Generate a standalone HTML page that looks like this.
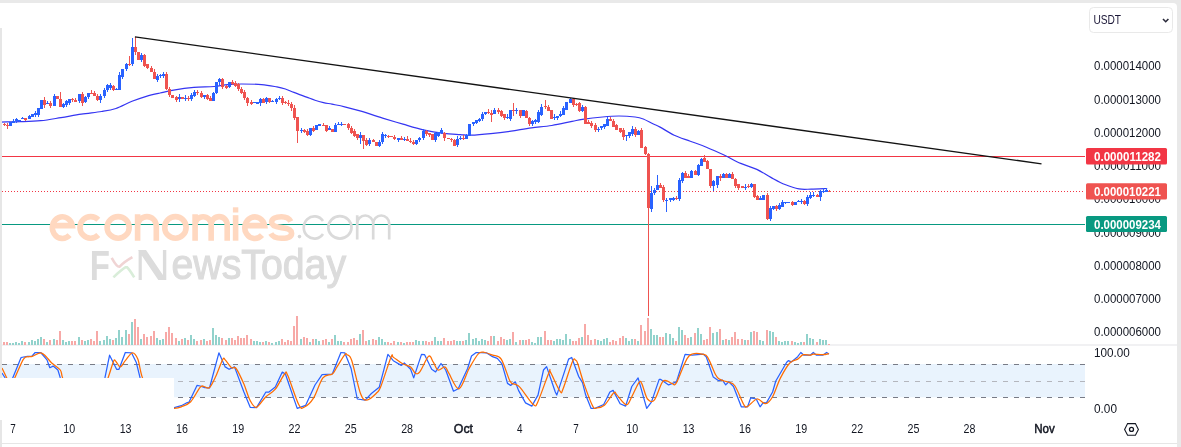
<!DOCTYPE html>
<html><head><meta charset="utf-8"><style>
html,body{margin:0;padding:0;width:1181px;height:447px;overflow:hidden;background:#e9e9e9}
svg{position:absolute;left:0;top:0;display:block;will-change:transform}
text{font-family:"Liberation Sans", sans-serif}
</style></head><body>
<svg width="1181" height="447" viewBox="0 0 1181 447">
<path d="M0,3 H1173 Q1177,3 1177,7 V447 H0 Z" fill="#ffffff"/>
<!-- select -->
<rect x="1089.5" y="7.5" width="83" height="25" rx="4" fill="#fff" stroke="#e9e9e9" stroke-width="1"/>
<text x="1093.4" y="24.1" font-size="12.6" fill="#1c1838" font-weight="normal" text-anchor="start" textLength="27.7" lengthAdjust="spacingAndGlyphs" >USDT</text>
<path d="M1163,19 L1165.7,21.7 L1168.4,19" fill="none" stroke="#2a2a3a" stroke-width="1.6"/>
<!-- band stochastic -->
<rect x="2" y="364" width="1083" height="33.3" fill="#e9f3fd"/>
<!-- separators -->
<rect x="2" y="344.5" width="1175" height="1" fill="#e3e4e8"/>
<rect x="2" y="443" width="1175" height="1" fill="#e6e6e6"/>
<!-- dashed lines -->
<line x1="2" y1="364.5" x2="1085" y2="364.5" stroke="#787b86" stroke-width="1" stroke-dasharray="5 6"/>
<line x1="2" y1="381.5" x2="1085" y2="381.5" stroke="#b4b6bd" stroke-width="1" stroke-dasharray="5 6"/>
<line x1="2" y1="397.5" x2="1085" y2="397.5" stroke="#787b86" stroke-width="1" stroke-dasharray="5 6"/>
<!-- volume -->
<rect x="3" y="342" width="2" height="3" fill="#f7a9a7"/><rect x="6" y="342" width="2" height="3" fill="#f7a9a7"/><rect x="9" y="343" width="2" height="2" fill="#92d2cc"/><rect x="12" y="343" width="2" height="2" fill="#92d2cc"/><rect x="15" y="342" width="2" height="3" fill="#92d2cc"/><rect x="18" y="343" width="2" height="2" fill="#92d2cc"/><rect x="21" y="341" width="2" height="4" fill="#92d2cc"/><rect x="24" y="342" width="2" height="3" fill="#f7a9a7"/><rect x="28" y="342" width="2" height="3" fill="#92d2cc"/><rect x="31" y="340" width="2" height="5" fill="#92d2cc"/><rect x="34" y="341" width="2" height="4" fill="#92d2cc"/><rect x="37" y="339" width="2" height="6" fill="#92d2cc"/><rect x="40" y="337" width="2" height="8" fill="#92d2cc"/><rect x="43" y="339" width="2" height="6" fill="#f7a9a7"/><rect x="46" y="342" width="2" height="3" fill="#92d2cc"/><rect x="49" y="340" width="2" height="5" fill="#f7a9a7"/><rect x="53" y="339" width="2" height="6" fill="#92d2cc"/><rect x="56" y="340" width="2" height="5" fill="#f7a9a7"/><rect x="59" y="331" width="2" height="14" fill="#f7a9a7"/><rect x="62" y="340" width="2" height="5" fill="#92d2cc"/><rect x="65" y="342" width="2" height="3" fill="#92d2cc"/><rect x="68" y="341" width="2" height="4" fill="#92d2cc"/><rect x="71" y="341" width="2" height="4" fill="#f7a9a7"/><rect x="74" y="341" width="2" height="4" fill="#f7a9a7"/><rect x="78" y="337" width="2" height="8" fill="#92d2cc"/><rect x="81" y="340" width="2" height="5" fill="#f7a9a7"/><rect x="84" y="341" width="2" height="4" fill="#92d2cc"/><rect x="87" y="340" width="2" height="5" fill="#92d2cc"/><rect x="90" y="339" width="2" height="6" fill="#f7a9a7"/><rect x="93" y="341" width="2" height="4" fill="#f7a9a7"/><rect x="96" y="331" width="2" height="14" fill="#f7a9a7"/><rect x="99" y="341" width="2" height="4" fill="#92d2cc"/><rect x="103" y="340" width="2" height="5" fill="#92d2cc"/><rect x="106" y="336" width="2" height="9" fill="#92d2cc"/><rect x="109" y="339" width="2" height="6" fill="#92d2cc"/><rect x="112" y="340" width="2" height="5" fill="#f7a9a7"/><rect x="115" y="338" width="2" height="7" fill="#92d2cc"/><rect x="118" y="330" width="2" height="15" fill="#92d2cc"/><rect x="121" y="337" width="2" height="8" fill="#92d2cc"/><rect x="125" y="330" width="2" height="15" fill="#92d2cc"/><rect x="128" y="334" width="2" height="11" fill="#f7a9a7"/><rect x="131" y="322" width="2" height="23" fill="#92d2cc"/><rect x="134" y="319" width="2" height="26" fill="#f7a9a7"/><rect x="137" y="327" width="2" height="18" fill="#f7a9a7"/><rect x="140" y="339" width="2" height="6" fill="#92d2cc"/><rect x="143" y="334" width="2" height="11" fill="#f7a9a7"/><rect x="146" y="337" width="2" height="8" fill="#f7a9a7"/><rect x="150" y="336" width="2" height="9" fill="#f7a9a7"/><rect x="153" y="331" width="2" height="14" fill="#f7a9a7"/><rect x="156" y="338" width="2" height="7" fill="#92d2cc"/><rect x="159" y="340" width="2" height="5" fill="#92d2cc"/><rect x="162" y="339" width="2" height="6" fill="#92d2cc"/><rect x="165" y="332" width="2" height="13" fill="#f7a9a7"/><rect x="168" y="327" width="2" height="18" fill="#f7a9a7"/><rect x="171" y="333" width="2" height="12" fill="#f7a9a7"/><rect x="175" y="338" width="2" height="7" fill="#f7a9a7"/><rect x="178" y="341" width="2" height="4" fill="#92d2cc"/><rect x="181" y="339" width="2" height="6" fill="#f7a9a7"/><rect x="184" y="338" width="2" height="7" fill="#92d2cc"/><rect x="187" y="340" width="2" height="5" fill="#f7a9a7"/><rect x="190" y="335" width="2" height="10" fill="#92d2cc"/><rect x="193" y="339" width="2" height="6" fill="#92d2cc"/><rect x="196" y="341" width="2" height="4" fill="#f7a9a7"/><rect x="200" y="340" width="2" height="5" fill="#f7a9a7"/><rect x="203" y="339" width="2" height="6" fill="#92d2cc"/><rect x="206" y="341" width="2" height="4" fill="#f7a9a7"/><rect x="209" y="340" width="2" height="5" fill="#f7a9a7"/><rect x="212" y="328" width="2" height="17" fill="#92d2cc"/><rect x="215" y="335" width="2" height="10" fill="#92d2cc"/><rect x="218" y="337" width="2" height="8" fill="#92d2cc"/><rect x="221" y="338" width="2" height="7" fill="#f7a9a7"/><rect x="225" y="340" width="2" height="5" fill="#f7a9a7"/><rect x="228" y="338" width="2" height="7" fill="#92d2cc"/><rect x="231" y="338" width="2" height="7" fill="#f7a9a7"/><rect x="234" y="340" width="2" height="5" fill="#f7a9a7"/><rect x="237" y="336" width="2" height="9" fill="#f7a9a7"/><rect x="240" y="338" width="2" height="7" fill="#f7a9a7"/><rect x="243" y="338" width="2" height="7" fill="#f7a9a7"/><rect x="246" y="335" width="2" height="10" fill="#f7a9a7"/><rect x="250" y="339" width="2" height="6" fill="#f7a9a7"/><rect x="253" y="341" width="2" height="4" fill="#92d2cc"/><rect x="256" y="341" width="2" height="4" fill="#92d2cc"/><rect x="259" y="342" width="2" height="3" fill="#92d2cc"/><rect x="262" y="342" width="2" height="3" fill="#f7a9a7"/><rect x="265" y="341" width="2" height="4" fill="#92d2cc"/><rect x="268" y="342" width="2" height="3" fill="#f7a9a7"/><rect x="271" y="343" width="2" height="2" fill="#92d2cc"/><rect x="275" y="342" width="2" height="3" fill="#92d2cc"/><rect x="278" y="341" width="2" height="4" fill="#92d2cc"/><rect x="281" y="339" width="2" height="6" fill="#f7a9a7"/><rect x="284" y="342" width="2" height="3" fill="#f7a9a7"/><rect x="287" y="340" width="2" height="5" fill="#f7a9a7"/><rect x="290" y="341" width="2" height="4" fill="#f7a9a7"/><rect x="293" y="326" width="2" height="19" fill="#f7a9a7"/><rect x="296" y="316" width="2" height="29" fill="#f7a9a7"/><rect x="300" y="339" width="2" height="6" fill="#92d2cc"/><rect x="303" y="337" width="2" height="8" fill="#f7a9a7"/><rect x="306" y="338" width="2" height="7" fill="#f7a9a7"/><rect x="309" y="342" width="2" height="3" fill="#92d2cc"/><rect x="312" y="339" width="2" height="6" fill="#f7a9a7"/><rect x="315" y="339" width="2" height="6" fill="#92d2cc"/><rect x="318" y="341" width="2" height="4" fill="#92d2cc"/><rect x="322" y="340" width="2" height="5" fill="#f7a9a7"/><rect x="325" y="339" width="2" height="6" fill="#f7a9a7"/><rect x="328" y="342" width="2" height="3" fill="#92d2cc"/><rect x="331" y="339" width="2" height="6" fill="#f7a9a7"/><rect x="334" y="335" width="2" height="10" fill="#92d2cc"/><rect x="337" y="341" width="2" height="4" fill="#92d2cc"/><rect x="340" y="341" width="2" height="4" fill="#92d2cc"/><rect x="343" y="342" width="2" height="3" fill="#f7a9a7"/><rect x="347" y="342" width="2" height="3" fill="#f7a9a7"/><rect x="350" y="339" width="2" height="6" fill="#f7a9a7"/><rect x="353" y="338" width="2" height="7" fill="#f7a9a7"/><rect x="356" y="340" width="2" height="5" fill="#f7a9a7"/><rect x="359" y="334" width="2" height="11" fill="#92d2cc"/><rect x="362" y="330" width="2" height="15" fill="#f7a9a7"/><rect x="365" y="341" width="2" height="4" fill="#f7a9a7"/><rect x="368" y="340" width="2" height="5" fill="#92d2cc"/><rect x="372" y="339" width="2" height="6" fill="#f7a9a7"/><rect x="375" y="340" width="2" height="5" fill="#f7a9a7"/><rect x="378" y="337" width="2" height="8" fill="#92d2cc"/><rect x="381" y="339" width="2" height="6" fill="#92d2cc"/><rect x="384" y="342" width="2" height="3" fill="#92d2cc"/><rect x="387" y="342" width="2" height="3" fill="#f7a9a7"/><rect x="390" y="343" width="2" height="2" fill="#f7a9a7"/><rect x="393" y="341" width="2" height="4" fill="#f7a9a7"/><rect x="397" y="342" width="2" height="3" fill="#92d2cc"/><rect x="400" y="342" width="2" height="3" fill="#f7a9a7"/><rect x="403" y="343" width="2" height="2" fill="#92d2cc"/><rect x="406" y="342" width="2" height="3" fill="#f7a9a7"/><rect x="409" y="342" width="2" height="3" fill="#f7a9a7"/><rect x="412" y="342" width="2" height="3" fill="#f7a9a7"/><rect x="415" y="340" width="2" height="5" fill="#92d2cc"/><rect x="418" y="341" width="2" height="4" fill="#92d2cc"/><rect x="422" y="341" width="2" height="4" fill="#92d2cc"/><rect x="425" y="341" width="2" height="4" fill="#f7a9a7"/><rect x="428" y="342" width="2" height="3" fill="#f7a9a7"/><rect x="431" y="341" width="2" height="4" fill="#f7a9a7"/><rect x="434" y="337" width="2" height="8" fill="#92d2cc"/><rect x="437" y="341" width="2" height="4" fill="#92d2cc"/><rect x="440" y="341" width="2" height="4" fill="#92d2cc"/><rect x="443" y="338" width="2" height="7" fill="#f7a9a7"/><rect x="447" y="341" width="2" height="4" fill="#f7a9a7"/><rect x="450" y="341" width="2" height="4" fill="#f7a9a7"/><rect x="453" y="340" width="2" height="5" fill="#f7a9a7"/><rect x="456" y="341" width="2" height="4" fill="#92d2cc"/><rect x="459" y="341" width="2" height="4" fill="#92d2cc"/><rect x="462" y="341" width="2" height="4" fill="#f7a9a7"/><rect x="465" y="340" width="2" height="5" fill="#92d2cc"/><rect x="468" y="333" width="2" height="12" fill="#92d2cc"/><rect x="472" y="339" width="2" height="6" fill="#92d2cc"/><rect x="475" y="338" width="2" height="7" fill="#92d2cc"/><rect x="478" y="341" width="2" height="4" fill="#92d2cc"/><rect x="481" y="339" width="2" height="6" fill="#92d2cc"/><rect x="484" y="340" width="2" height="5" fill="#92d2cc"/><rect x="487" y="341" width="2" height="4" fill="#f7a9a7"/><rect x="490" y="336" width="2" height="9" fill="#f7a9a7"/><rect x="493" y="336" width="2" height="9" fill="#92d2cc"/><rect x="497" y="341" width="2" height="4" fill="#f7a9a7"/><rect x="500" y="337" width="2" height="8" fill="#f7a9a7"/><rect x="503" y="339" width="2" height="6" fill="#f7a9a7"/><rect x="506" y="340" width="2" height="5" fill="#92d2cc"/><rect x="509" y="339" width="2" height="6" fill="#92d2cc"/><rect x="512" y="332" width="2" height="13" fill="#f7a9a7"/><rect x="515" y="342" width="2" height="3" fill="#92d2cc"/><rect x="519" y="340" width="2" height="5" fill="#f7a9a7"/><rect x="522" y="340" width="2" height="5" fill="#92d2cc"/><rect x="525" y="340" width="2" height="5" fill="#f7a9a7"/><rect x="528" y="339" width="2" height="6" fill="#f7a9a7"/><rect x="531" y="342" width="2" height="3" fill="#92d2cc"/><rect x="534" y="343" width="2" height="2" fill="#92d2cc"/><rect x="537" y="337" width="2" height="8" fill="#92d2cc"/><rect x="540" y="337" width="2" height="8" fill="#92d2cc"/><rect x="544" y="331" width="2" height="14" fill="#f7a9a7"/><rect x="547" y="340" width="2" height="5" fill="#f7a9a7"/><rect x="550" y="340" width="2" height="5" fill="#f7a9a7"/><rect x="553" y="341" width="2" height="4" fill="#92d2cc"/><rect x="556" y="339" width="2" height="6" fill="#92d2cc"/><rect x="559" y="339" width="2" height="6" fill="#92d2cc"/><rect x="562" y="340" width="2" height="5" fill="#92d2cc"/><rect x="565" y="334" width="2" height="11" fill="#92d2cc"/><rect x="569" y="339" width="2" height="6" fill="#92d2cc"/><rect x="572" y="341" width="2" height="4" fill="#f7a9a7"/><rect x="575" y="341" width="2" height="4" fill="#f7a9a7"/><rect x="578" y="338" width="2" height="7" fill="#f7a9a7"/><rect x="581" y="337" width="2" height="8" fill="#92d2cc"/><rect x="584" y="324" width="2" height="21" fill="#f7a9a7"/><rect x="587" y="335" width="2" height="10" fill="#f7a9a7"/><rect x="590" y="340" width="2" height="5" fill="#f7a9a7"/><rect x="594" y="339" width="2" height="6" fill="#f7a9a7"/><rect x="597" y="340" width="2" height="5" fill="#92d2cc"/><rect x="600" y="341" width="2" height="4" fill="#92d2cc"/><rect x="603" y="339" width="2" height="6" fill="#92d2cc"/><rect x="606" y="338" width="2" height="7" fill="#92d2cc"/><rect x="609" y="342" width="2" height="3" fill="#f7a9a7"/><rect x="612" y="340" width="2" height="5" fill="#f7a9a7"/><rect x="615" y="341" width="2" height="4" fill="#f7a9a7"/><rect x="619" y="338" width="2" height="7" fill="#f7a9a7"/><rect x="622" y="336" width="2" height="9" fill="#f7a9a7"/><rect x="625" y="338" width="2" height="7" fill="#92d2cc"/><rect x="628" y="341" width="2" height="4" fill="#92d2cc"/><rect x="631" y="339" width="2" height="6" fill="#92d2cc"/><rect x="634" y="339" width="2" height="6" fill="#f7a9a7"/><rect x="637" y="341" width="2" height="4" fill="#92d2cc"/><rect x="640" y="325" width="2" height="20" fill="#f7a9a7"/><rect x="644" y="331" width="2" height="14" fill="#f7a9a7"/><rect x="647" y="318" width="2" height="27" fill="#f7a9a7"/><rect x="650" y="329" width="2" height="16" fill="#92d2cc"/><rect x="653" y="335" width="2" height="10" fill="#92d2cc"/><rect x="656" y="335" width="2" height="10" fill="#92d2cc"/><rect x="659" y="337" width="2" height="8" fill="#f7a9a7"/><rect x="662" y="337" width="2" height="8" fill="#f7a9a7"/><rect x="665" y="333" width="2" height="12" fill="#92d2cc"/><rect x="669" y="334" width="2" height="11" fill="#92d2cc"/><rect x="672" y="338" width="2" height="7" fill="#92d2cc"/><rect x="675" y="341" width="2" height="4" fill="#f7a9a7"/><rect x="678" y="327" width="2" height="18" fill="#92d2cc"/><rect x="681" y="330" width="2" height="15" fill="#92d2cc"/><rect x="684" y="335" width="2" height="10" fill="#f7a9a7"/><rect x="687" y="338" width="2" height="7" fill="#f7a9a7"/><rect x="690" y="337" width="2" height="8" fill="#92d2cc"/><rect x="694" y="333" width="2" height="12" fill="#f7a9a7"/><rect x="697" y="328" width="2" height="17" fill="#92d2cc"/><rect x="700" y="334" width="2" height="11" fill="#92d2cc"/><rect x="703" y="340" width="2" height="5" fill="#f7a9a7"/><rect x="706" y="339" width="2" height="6" fill="#f7a9a7"/><rect x="709" y="327" width="2" height="18" fill="#f7a9a7"/><rect x="712" y="333" width="2" height="12" fill="#92d2cc"/><rect x="716" y="332" width="2" height="13" fill="#92d2cc"/><rect x="719" y="329" width="2" height="16" fill="#f7a9a7"/><rect x="722" y="340" width="2" height="5" fill="#92d2cc"/><rect x="725" y="339" width="2" height="6" fill="#f7a9a7"/><rect x="728" y="340" width="2" height="5" fill="#92d2cc"/><rect x="731" y="337" width="2" height="8" fill="#f7a9a7"/><rect x="734" y="332" width="2" height="13" fill="#f7a9a7"/><rect x="737" y="339" width="2" height="6" fill="#f7a9a7"/><rect x="741" y="339" width="2" height="6" fill="#f7a9a7"/><rect x="744" y="340" width="2" height="5" fill="#92d2cc"/><rect x="747" y="340" width="2" height="5" fill="#f7a9a7"/><rect x="750" y="332" width="2" height="13" fill="#92d2cc"/><rect x="753" y="331" width="2" height="14" fill="#f7a9a7"/><rect x="756" y="332" width="2" height="13" fill="#f7a9a7"/><rect x="759" y="340" width="2" height="5" fill="#92d2cc"/><rect x="762" y="341" width="2" height="4" fill="#92d2cc"/><rect x="766" y="330" width="2" height="15" fill="#f7a9a7"/><rect x="769" y="331" width="2" height="14" fill="#92d2cc"/><rect x="772" y="332" width="2" height="13" fill="#92d2cc"/><rect x="775" y="337" width="2" height="8" fill="#f7a9a7"/><rect x="778" y="341" width="2" height="4" fill="#92d2cc"/><rect x="781" y="342" width="2" height="3" fill="#92d2cc"/><rect x="784" y="341" width="2" height="4" fill="#92d2cc"/><rect x="787" y="341" width="2" height="4" fill="#92d2cc"/><rect x="791" y="341" width="2" height="4" fill="#f7a9a7"/><rect x="794" y="342" width="2" height="3" fill="#92d2cc"/><rect x="797" y="343" width="2" height="2" fill="#92d2cc"/><rect x="800" y="342" width="2" height="3" fill="#92d2cc"/><rect x="803" y="342" width="2" height="3" fill="#f7a9a7"/><rect x="806" y="334" width="2" height="11" fill="#92d2cc"/><rect x="809" y="338" width="2" height="7" fill="#92d2cc"/><rect x="812" y="339" width="2" height="6" fill="#92d2cc"/><rect x="816" y="342" width="2" height="3" fill="#f7a9a7"/><rect x="819" y="339" width="2" height="6" fill="#92d2cc"/><rect x="822" y="340" width="2" height="5" fill="#92d2cc"/><rect x="825" y="340" width="2" height="5" fill="#92d2cc"/><rect x="828" y="344" width="2" height="1" fill="#f7a9a7"/>
<!-- horizontal lines -->
<rect x="2" y="156" width="1083" height="1" fill="#f23645"/>
<line x1="2" y1="191.5" x2="1085" y2="191.5" stroke="#f23645" stroke-width="1" stroke-dasharray="1 2"/>
<rect x="2" y="224" width="1083" height="1" fill="#089981"/>
<!-- MA -->
<path d="M0.0,122.1 C3.4,122.0 13.5,121.9 20.3,121.7 C27.1,121.5 33.9,121.4 40.7,120.7 C47.5,120.0 54.2,118.7 61.0,117.6 C67.8,116.5 74.5,115.1 81.3,114.1 C88.1,113.1 95.8,112.4 101.6,111.5 C107.4,110.6 110.8,110.2 115.9,108.5 C121.0,106.8 126.9,103.3 132.0,101.3 C137.1,99.3 141.6,97.7 146.3,96.3 C151.0,94.9 155.4,94.0 160.0,93.0 C164.6,92.0 167.9,91.0 173.6,90.1 C179.2,89.1 187.1,87.9 193.9,87.3 C200.7,86.7 208.5,87.0 214.2,86.5 C219.8,86.0 223.3,85.0 227.8,84.6 C232.3,84.2 235.7,84.0 241.3,84.0 C246.9,84.0 255.7,84.1 261.6,84.6 C267.5,85.1 272.9,86.2 276.9,86.9 C280.9,87.6 282.6,88.1 285.4,89.0 C288.2,89.9 290.4,91.1 293.9,92.4 C297.4,93.8 303.1,95.8 306.6,97.1 C310.1,98.4 312.2,99.3 315.0,100.2 C317.8,101.1 320.7,101.9 323.5,102.6 C326.3,103.3 328.5,103.5 332.0,104.2 C335.5,104.9 340.0,105.7 344.7,106.8 C349.4,107.9 353.7,109.0 360.0,110.9 C366.3,112.8 375.4,115.9 382.6,118.1 C389.8,120.3 396.2,122.2 403.0,124.2 C409.8,126.2 416.5,128.4 423.3,129.9 C430.1,131.4 437.4,132.6 443.6,133.4 C449.8,134.2 455.8,134.3 460.3,134.6 C464.8,134.9 465.4,135.4 470.5,135.2 C475.6,135.0 484.0,134.3 490.8,133.6 C497.6,132.9 504.3,132.1 511.1,131.2 C517.9,130.2 524.7,128.8 531.5,127.9 C538.3,127.0 545.0,126.6 551.8,125.5 C558.6,124.4 567.0,122.4 572.1,121.4 C577.2,120.4 577.2,120.1 582.3,119.4 C587.4,118.7 596.5,117.6 602.6,117.0 C608.7,116.4 613.5,116.0 618.9,116.0 C624.3,116.0 631.0,116.5 635.1,117.0 C639.2,117.5 640.2,117.8 643.3,119.0 C646.3,120.2 650.6,122.7 653.4,124.0 C656.2,125.3 656.6,125.2 660.1,127.1 C663.6,129.0 669.2,132.8 674.2,135.2 C679.2,137.5 684.9,139.2 690.3,141.2 C695.7,143.2 700.7,144.8 706.4,147.2 C712.1,149.5 718.9,152.6 724.6,155.3 C730.3,158.0 735.3,161.1 740.7,163.4 C746.1,165.8 751.8,167.1 756.8,169.4 C761.8,171.7 766.2,174.9 770.9,177.4 C775.6,179.9 780.3,182.6 785.0,184.5 C789.7,186.4 794.6,188.1 799.0,188.9 C803.4,189.7 806.4,189.2 811.1,189.1 C815.8,189.0 824.5,188.6 827.2,188.5" fill="none" stroke="#3535f2" stroke-width="1.2"/>
<!-- candles -->
<rect x="4" y="123.00" width="1" height="3.00" fill="#ef5350"/><rect x="3" y="124.00" width="3" height="1.00" fill="#ef5350"/><rect x="7" y="123.00" width="1" height="6.00" fill="#ef5350"/><rect x="6" y="125.00" width="3" height="1.00" fill="#ef5350"/><rect x="10" y="122.00" width="1" height="4.00" fill="#2962ff"/><rect x="9" y="122.00" width="3" height="4.00" fill="#2962ff"/><rect x="13" y="119.00" width="1" height="4.00" fill="#2962ff"/><rect x="12" y="121.00" width="3" height="2.00" fill="#2962ff"/><rect x="16" y="118.00" width="1" height="5.00" fill="#2962ff"/><rect x="15" y="119.00" width="3" height="2.00" fill="#2962ff"/><rect x="19" y="120.00" width="1" height="2.00" fill="#2962ff"/><rect x="18" y="120.00" width="3" height="1.00" fill="#2962ff"/><rect x="22" y="117.00" width="1" height="2.00" fill="#2962ff"/><rect x="21" y="118.00" width="3" height="1.00" fill="#2962ff"/><rect x="25" y="118.00" width="1" height="3.00" fill="#ef5350"/><rect x="24" y="118.00" width="3" height="2.00" fill="#ef5350"/><rect x="29" y="115.00" width="1" height="4.00" fill="#2962ff"/><rect x="28" y="116.00" width="3" height="3.00" fill="#2962ff"/><rect x="32" y="114.00" width="1" height="3.00" fill="#2962ff"/><rect x="31" y="114.00" width="3" height="3.00" fill="#2962ff"/><rect x="35" y="111.00" width="1" height="6.00" fill="#2962ff"/><rect x="34" y="113.00" width="3" height="2.00" fill="#2962ff"/><rect x="38" y="108.00" width="1" height="9.00" fill="#2962ff"/><rect x="37" y="108.00" width="3" height="7.00" fill="#2962ff"/><rect x="41" y="100.00" width="1" height="9.00" fill="#2962ff"/><rect x="40" y="100.00" width="3" height="9.00" fill="#2962ff"/><rect x="44" y="97.00" width="1" height="11.00" fill="#ef5350"/><rect x="43" y="100.00" width="3" height="5.00" fill="#ef5350"/><rect x="47" y="101.00" width="1" height="3.00" fill="#2962ff"/><rect x="46" y="103.00" width="3" height="1.00" fill="#2962ff"/><rect x="50" y="101.00" width="1" height="7.00" fill="#ef5350"/><rect x="49" y="103.00" width="3" height="3.00" fill="#ef5350"/><rect x="54" y="94.00" width="1" height="12.00" fill="#2962ff"/><rect x="53" y="96.00" width="3" height="10.00" fill="#2962ff"/><rect x="57" y="96.00" width="1" height="3.00" fill="#ef5350"/><rect x="56" y="96.00" width="3" height="3.00" fill="#ef5350"/><rect x="60" y="92.00" width="1" height="15.00" fill="#ef5350"/><rect x="59" y="99.00" width="3" height="8.00" fill="#ef5350"/><rect x="63" y="103.00" width="1" height="5.00" fill="#2962ff"/><rect x="62" y="104.00" width="3" height="3.00" fill="#2962ff"/><rect x="66" y="100.00" width="1" height="7.00" fill="#2962ff"/><rect x="65" y="101.00" width="3" height="4.00" fill="#2962ff"/><rect x="69" y="99.00" width="1" height="6.00" fill="#2962ff"/><rect x="68" y="99.00" width="3" height="4.00" fill="#2962ff"/><rect x="72" y="98.00" width="1" height="4.00" fill="#ef5350"/><rect x="71" y="99.00" width="3" height="1.00" fill="#ef5350"/><rect x="75" y="98.00" width="1" height="4.00" fill="#ef5350"/><rect x="74" y="100.00" width="3" height="2.00" fill="#ef5350"/><rect x="79" y="94.00" width="1" height="9.00" fill="#2962ff"/><rect x="78" y="94.00" width="3" height="7.00" fill="#2962ff"/><rect x="82" y="92.00" width="1" height="14.00" fill="#ef5350"/><rect x="81" y="94.00" width="3" height="9.00" fill="#ef5350"/><rect x="85" y="96.00" width="1" height="7.00" fill="#2962ff"/><rect x="84" y="97.00" width="3" height="5.00" fill="#2962ff"/><rect x="88" y="93.00" width="1" height="6.00" fill="#2962ff"/><rect x="87" y="93.00" width="3" height="4.00" fill="#2962ff"/><rect x="91" y="90.00" width="1" height="4.00" fill="#ef5350"/><rect x="90" y="93.00" width="3" height="1.00" fill="#ef5350"/><rect x="94" y="91.00" width="1" height="5.00" fill="#ef5350"/><rect x="93" y="93.00" width="3" height="3.00" fill="#ef5350"/><rect x="97" y="94.00" width="1" height="7.00" fill="#ef5350"/><rect x="96" y="96.00" width="3" height="4.00" fill="#ef5350"/><rect x="100" y="94.00" width="1" height="9.00" fill="#2962ff"/><rect x="99" y="96.00" width="3" height="4.00" fill="#2962ff"/><rect x="104" y="88.00" width="1" height="10.00" fill="#2962ff"/><rect x="103" y="90.00" width="3" height="6.00" fill="#2962ff"/><rect x="107" y="84.00" width="1" height="8.00" fill="#2962ff"/><rect x="106" y="85.00" width="3" height="5.00" fill="#2962ff"/><rect x="110" y="83.00" width="1" height="7.00" fill="#2962ff"/><rect x="109" y="85.00" width="3" height="3.00" fill="#2962ff"/><rect x="113" y="85.00" width="1" height="6.00" fill="#ef5350"/><rect x="112" y="86.00" width="3" height="4.00" fill="#ef5350"/><rect x="116" y="88.00" width="1" height="2.00" fill="#2962ff"/><rect x="115" y="89.00" width="3" height="1.00" fill="#2962ff"/><rect x="119" y="72.00" width="1" height="18.00" fill="#2962ff"/><rect x="118" y="75.00" width="3" height="15.00" fill="#2962ff"/><rect x="122" y="69.00" width="1" height="10.00" fill="#2962ff"/><rect x="121" y="69.00" width="3" height="8.00" fill="#2962ff"/><rect x="126" y="63.00" width="1" height="8.00" fill="#2962ff"/><rect x="125" y="64.00" width="3" height="5.00" fill="#2962ff"/><rect x="129" y="56.00" width="1" height="10.00" fill="#ef5350"/><rect x="128" y="64.00" width="3" height="1.00" fill="#ef5350"/><rect x="132" y="38.00" width="1" height="28.00" fill="#2962ff"/><rect x="131" y="47.00" width="3" height="17.00" fill="#2962ff"/><rect x="135" y="37.00" width="1" height="18.00" fill="#ef5350"/><rect x="134" y="47.00" width="3" height="5.00" fill="#ef5350"/><rect x="138" y="52.00" width="1" height="8.00" fill="#ef5350"/><rect x="137" y="52.00" width="3" height="8.00" fill="#ef5350"/><rect x="141" y="53.00" width="1" height="9.00" fill="#2962ff"/><rect x="140" y="55.00" width="3" height="5.00" fill="#2962ff"/><rect x="144" y="54.00" width="1" height="13.00" fill="#ef5350"/><rect x="143" y="55.00" width="3" height="11.00" fill="#ef5350"/><rect x="147" y="64.00" width="1" height="5.00" fill="#ef5350"/><rect x="146" y="64.00" width="3" height="4.00" fill="#ef5350"/><rect x="151" y="66.00" width="1" height="6.00" fill="#ef5350"/><rect x="150" y="68.00" width="3" height="4.00" fill="#ef5350"/><rect x="154" y="69.00" width="1" height="10.00" fill="#ef5350"/><rect x="153" y="72.00" width="3" height="7.00" fill="#ef5350"/><rect x="157" y="74.00" width="1" height="8.00" fill="#2962ff"/><rect x="156" y="76.00" width="3" height="4.00" fill="#2962ff"/><rect x="160" y="74.00" width="1" height="4.00" fill="#2962ff"/><rect x="159" y="75.00" width="3" height="1.00" fill="#2962ff"/><rect x="163" y="72.00" width="1" height="6.00" fill="#2962ff"/><rect x="162" y="74.00" width="3" height="2.00" fill="#2962ff"/><rect x="166" y="72.00" width="1" height="18.00" fill="#ef5350"/><rect x="165" y="74.00" width="3" height="15.00" fill="#ef5350"/><rect x="169" y="87.00" width="1" height="10.00" fill="#ef5350"/><rect x="168" y="89.00" width="3" height="6.00" fill="#ef5350"/><rect x="172" y="95.00" width="1" height="3.00" fill="#ef5350"/><rect x="171" y="95.00" width="3" height="3.00" fill="#ef5350"/><rect x="176" y="96.00" width="1" height="6.00" fill="#ef5350"/><rect x="175" y="97.00" width="3" height="3.00" fill="#ef5350"/><rect x="179" y="94.00" width="1" height="8.00" fill="#2962ff"/><rect x="178" y="97.00" width="3" height="2.00" fill="#2962ff"/><rect x="182" y="97.00" width="1" height="2.00" fill="#ef5350"/><rect x="181" y="97.00" width="3" height="2.00" fill="#ef5350"/><rect x="185" y="95.00" width="1" height="6.00" fill="#2962ff"/><rect x="184" y="98.00" width="3" height="1.00" fill="#2962ff"/><rect x="188" y="96.00" width="1" height="5.00" fill="#ef5350"/><rect x="187" y="98.00" width="3" height="1.00" fill="#ef5350"/><rect x="191" y="93.00" width="1" height="8.00" fill="#2962ff"/><rect x="190" y="95.00" width="3" height="4.00" fill="#2962ff"/><rect x="194" y="90.00" width="1" height="7.00" fill="#2962ff"/><rect x="193" y="92.00" width="3" height="4.00" fill="#2962ff"/><rect x="197" y="90.00" width="1" height="5.00" fill="#ef5350"/><rect x="196" y="92.00" width="3" height="1.00" fill="#ef5350"/><rect x="201" y="91.00" width="1" height="7.00" fill="#ef5350"/><rect x="200" y="93.00" width="3" height="4.00" fill="#ef5350"/><rect x="204" y="95.00" width="1" height="4.00" fill="#2962ff"/><rect x="203" y="95.00" width="3" height="2.00" fill="#2962ff"/><rect x="207" y="94.00" width="1" height="6.00" fill="#ef5350"/><rect x="206" y="95.00" width="3" height="4.00" fill="#ef5350"/><rect x="210" y="96.00" width="1" height="5.00" fill="#ef5350"/><rect x="209" y="98.00" width="3" height="3.00" fill="#ef5350"/><rect x="213" y="92.00" width="1" height="9.00" fill="#2962ff"/><rect x="212" y="93.00" width="3" height="8.00" fill="#2962ff"/><rect x="216" y="82.00" width="1" height="12.00" fill="#2962ff"/><rect x="215" y="82.00" width="3" height="11.00" fill="#2962ff"/><rect x="219" y="78.00" width="1" height="7.00" fill="#2962ff"/><rect x="218" y="79.00" width="3" height="3.00" fill="#2962ff"/><rect x="222" y="78.00" width="1" height="11.00" fill="#ef5350"/><rect x="221" y="79.00" width="3" height="8.00" fill="#ef5350"/><rect x="226" y="85.00" width="1" height="4.00" fill="#ef5350"/><rect x="225" y="86.00" width="3" height="2.00" fill="#ef5350"/><rect x="229" y="82.00" width="1" height="6.00" fill="#2962ff"/><rect x="228" y="82.00" width="3" height="5.00" fill="#2962ff"/><rect x="232" y="80.00" width="1" height="5.00" fill="#ef5350"/><rect x="231" y="82.00" width="3" height="2.00" fill="#ef5350"/><rect x="235" y="81.00" width="1" height="6.00" fill="#ef5350"/><rect x="234" y="83.00" width="3" height="3.00" fill="#ef5350"/><rect x="238" y="83.00" width="1" height="8.00" fill="#ef5350"/><rect x="237" y="84.00" width="3" height="5.00" fill="#ef5350"/><rect x="241" y="87.00" width="1" height="7.00" fill="#ef5350"/><rect x="240" y="89.00" width="3" height="4.00" fill="#ef5350"/><rect x="244" y="90.00" width="1" height="10.00" fill="#ef5350"/><rect x="243" y="92.00" width="3" height="6.00" fill="#ef5350"/><rect x="247" y="97.00" width="1" height="9.00" fill="#ef5350"/><rect x="246" y="98.00" width="3" height="5.00" fill="#ef5350"/><rect x="251" y="100.00" width="1" height="5.00" fill="#ef5350"/><rect x="250" y="102.00" width="3" height="2.00" fill="#ef5350"/><rect x="254" y="102.00" width="1" height="1.00" fill="#2962ff"/><rect x="253" y="102.00" width="3" height="1.00" fill="#2962ff"/><rect x="257" y="102.00" width="1" height="2.00" fill="#2962ff"/><rect x="256" y="102.00" width="3" height="2.00" fill="#2962ff"/><rect x="260" y="98.00" width="1" height="8.00" fill="#2962ff"/><rect x="259" y="99.00" width="3" height="4.00" fill="#2962ff"/><rect x="263" y="98.00" width="1" height="5.00" fill="#ef5350"/><rect x="262" y="99.00" width="3" height="4.00" fill="#ef5350"/><rect x="266" y="97.00" width="1" height="7.00" fill="#2962ff"/><rect x="265" y="98.00" width="3" height="4.00" fill="#2962ff"/><rect x="269" y="98.00" width="1" height="5.00" fill="#ef5350"/><rect x="268" y="98.00" width="3" height="4.00" fill="#ef5350"/><rect x="272" y="100.00" width="1" height="2.00" fill="#2962ff"/><rect x="271" y="101.00" width="3" height="1.00" fill="#2962ff"/><rect x="276" y="98.00" width="1" height="6.00" fill="#2962ff"/><rect x="275" y="99.00" width="3" height="3.00" fill="#2962ff"/><rect x="279" y="96.00" width="1" height="4.00" fill="#2962ff"/><rect x="278" y="98.00" width="3" height="1.00" fill="#2962ff"/><rect x="282" y="96.00" width="1" height="9.00" fill="#ef5350"/><rect x="281" y="98.00" width="3" height="5.00" fill="#ef5350"/><rect x="285" y="101.00" width="1" height="3.00" fill="#ef5350"/><rect x="284" y="102.00" width="3" height="1.00" fill="#ef5350"/><rect x="288" y="100.00" width="1" height="6.00" fill="#ef5350"/><rect x="287" y="103.00" width="3" height="1.00" fill="#ef5350"/><rect x="291" y="102.00" width="1" height="9.00" fill="#ef5350"/><rect x="290" y="104.00" width="3" height="4.00" fill="#ef5350"/><rect x="294" y="105.00" width="1" height="15.00" fill="#ef5350"/><rect x="293" y="108.00" width="3" height="10.00" fill="#ef5350"/><rect x="297" y="117.00" width="1" height="26.00" fill="#ef5350"/><rect x="296" y="117.00" width="3" height="14.00" fill="#ef5350"/><rect x="301" y="128.00" width="1" height="5.00" fill="#2962ff"/><rect x="300" y="130.00" width="3" height="1.00" fill="#2962ff"/><rect x="304" y="129.00" width="1" height="4.00" fill="#ef5350"/><rect x="303" y="130.00" width="3" height="2.00" fill="#ef5350"/><rect x="307" y="129.00" width="1" height="7.00" fill="#ef5350"/><rect x="306" y="131.00" width="3" height="4.00" fill="#ef5350"/><rect x="310" y="128.00" width="1" height="8.00" fill="#2962ff"/><rect x="309" y="128.00" width="3" height="7.00" fill="#2962ff"/><rect x="313" y="126.00" width="1" height="6.00" fill="#ef5350"/><rect x="312" y="128.00" width="3" height="3.00" fill="#ef5350"/><rect x="316" y="125.00" width="1" height="5.00" fill="#2962ff"/><rect x="315" y="125.00" width="3" height="5.00" fill="#2962ff"/><rect x="319" y="124.00" width="1" height="2.00" fill="#2962ff"/><rect x="318" y="124.00" width="3" height="2.00" fill="#2962ff"/><rect x="323" y="123.00" width="1" height="3.00" fill="#ef5350"/><rect x="322" y="125.00" width="3" height="1.00" fill="#ef5350"/><rect x="326" y="125.00" width="1" height="7.00" fill="#ef5350"/><rect x="325" y="125.00" width="3" height="6.00" fill="#ef5350"/><rect x="329" y="126.00" width="1" height="4.00" fill="#2962ff"/><rect x="328" y="128.00" width="3" height="2.00" fill="#2962ff"/><rect x="332" y="129.00" width="1" height="3.00" fill="#ef5350"/><rect x="331" y="129.00" width="3" height="3.00" fill="#ef5350"/><rect x="335" y="123.00" width="1" height="9.00" fill="#2962ff"/><rect x="334" y="125.00" width="3" height="7.00" fill="#2962ff"/><rect x="338" y="122.00" width="1" height="3.00" fill="#2962ff"/><rect x="337" y="124.00" width="3" height="1.00" fill="#2962ff"/><rect x="341" y="122.00" width="1" height="4.00" fill="#2962ff"/><rect x="340" y="124.00" width="3" height="1.00" fill="#2962ff"/><rect x="344" y="124.00" width="1" height="1.00" fill="#ef5350"/><rect x="343" y="124.00" width="3" height="1.00" fill="#ef5350"/><rect x="348" y="123.00" width="1" height="7.00" fill="#ef5350"/><rect x="347" y="124.00" width="3" height="4.00" fill="#ef5350"/><rect x="351" y="126.00" width="1" height="8.00" fill="#ef5350"/><rect x="350" y="128.00" width="3" height="5.00" fill="#ef5350"/><rect x="354" y="129.00" width="1" height="8.00" fill="#ef5350"/><rect x="353" y="131.00" width="3" height="5.00" fill="#ef5350"/><rect x="357" y="134.00" width="1" height="6.00" fill="#ef5350"/><rect x="356" y="134.00" width="3" height="4.00" fill="#ef5350"/><rect x="360" y="132.00" width="1" height="12.00" fill="#2962ff"/><rect x="359" y="135.00" width="3" height="3.00" fill="#2962ff"/><rect x="363" y="135.00" width="1" height="14.00" fill="#ef5350"/><rect x="362" y="135.00" width="3" height="6.00" fill="#ef5350"/><rect x="366" y="138.00" width="1" height="8.00" fill="#ef5350"/><rect x="365" y="140.00" width="3" height="5.00" fill="#ef5350"/><rect x="369" y="138.00" width="1" height="8.00" fill="#2962ff"/><rect x="368" y="140.00" width="3" height="4.00" fill="#2962ff"/><rect x="373" y="139.00" width="1" height="3.00" fill="#ef5350"/><rect x="372" y="140.00" width="3" height="2.00" fill="#ef5350"/><rect x="376" y="142.00" width="1" height="4.00" fill="#ef5350"/><rect x="375" y="142.00" width="3" height="4.00" fill="#ef5350"/><rect x="379" y="140.00" width="1" height="7.00" fill="#2962ff"/><rect x="378" y="142.00" width="3" height="4.00" fill="#2962ff"/><rect x="382" y="132.00" width="1" height="12.00" fill="#2962ff"/><rect x="381" y="134.00" width="3" height="8.00" fill="#2962ff"/><rect x="385" y="134.00" width="1" height="4.00" fill="#2962ff"/><rect x="384" y="135.00" width="3" height="1.00" fill="#2962ff"/><rect x="388" y="135.00" width="1" height="3.00" fill="#ef5350"/><rect x="387" y="136.00" width="3" height="1.00" fill="#ef5350"/><rect x="391" y="136.00" width="1" height="1.00" fill="#ef5350"/><rect x="390" y="136.00" width="3" height="1.00" fill="#ef5350"/><rect x="394" y="135.00" width="1" height="5.00" fill="#ef5350"/><rect x="393" y="137.00" width="3" height="2.00" fill="#ef5350"/><rect x="398" y="138.00" width="1" height="4.00" fill="#2962ff"/><rect x="397" y="138.00" width="3" height="2.00" fill="#2962ff"/><rect x="401" y="136.00" width="1" height="4.00" fill="#ef5350"/><rect x="400" y="138.00" width="3" height="2.00" fill="#ef5350"/><rect x="404" y="137.00" width="1" height="4.00" fill="#2962ff"/><rect x="403" y="139.00" width="3" height="1.00" fill="#2962ff"/><rect x="407" y="136.00" width="1" height="5.00" fill="#ef5350"/><rect x="406" y="139.00" width="3" height="2.00" fill="#ef5350"/><rect x="410" y="138.00" width="1" height="5.00" fill="#ef5350"/><rect x="409" y="141.00" width="3" height="1.00" fill="#ef5350"/><rect x="413" y="140.00" width="1" height="5.00" fill="#ef5350"/><rect x="412" y="142.00" width="3" height="2.00" fill="#ef5350"/><rect x="416" y="140.00" width="1" height="5.00" fill="#2962ff"/><rect x="415" y="140.00" width="3" height="4.00" fill="#2962ff"/><rect x="419" y="137.00" width="1" height="5.00" fill="#2962ff"/><rect x="418" y="138.00" width="3" height="2.00" fill="#2962ff"/><rect x="423" y="129.00" width="1" height="11.00" fill="#2962ff"/><rect x="422" y="131.00" width="3" height="7.00" fill="#2962ff"/><rect x="426" y="130.00" width="1" height="6.00" fill="#ef5350"/><rect x="425" y="131.00" width="3" height="3.00" fill="#ef5350"/><rect x="429" y="133.00" width="1" height="4.00" fill="#ef5350"/><rect x="428" y="133.00" width="3" height="2.00" fill="#ef5350"/><rect x="432" y="134.00" width="1" height="6.00" fill="#ef5350"/><rect x="431" y="134.00" width="3" height="6.00" fill="#ef5350"/><rect x="435" y="132.00" width="1" height="10.00" fill="#2962ff"/><rect x="434" y="133.00" width="3" height="7.00" fill="#2962ff"/><rect x="438" y="132.00" width="1" height="5.00" fill="#2962ff"/><rect x="437" y="132.00" width="3" height="4.00" fill="#2962ff"/><rect x="441" y="128.00" width="1" height="6.00" fill="#2962ff"/><rect x="440" y="130.00" width="3" height="3.00" fill="#2962ff"/><rect x="444" y="132.00" width="1" height="9.00" fill="#ef5350"/><rect x="443" y="133.00" width="3" height="5.00" fill="#ef5350"/><rect x="448" y="138.00" width="1" height="1.00" fill="#ef5350"/><rect x="447" y="138.00" width="3" height="1.00" fill="#ef5350"/><rect x="451" y="138.00" width="1" height="4.00" fill="#ef5350"/><rect x="450" y="139.00" width="3" height="1.00" fill="#ef5350"/><rect x="454" y="139.00" width="1" height="7.00" fill="#ef5350"/><rect x="453" y="140.00" width="3" height="6.00" fill="#ef5350"/><rect x="457" y="136.00" width="1" height="11.00" fill="#2962ff"/><rect x="456" y="139.00" width="3" height="6.00" fill="#2962ff"/><rect x="460" y="136.00" width="1" height="4.00" fill="#2962ff"/><rect x="459" y="138.00" width="3" height="1.00" fill="#2962ff"/><rect x="463" y="135.00" width="1" height="5.00" fill="#ef5350"/><rect x="462" y="138.00" width="3" height="1.00" fill="#ef5350"/><rect x="466" y="134.00" width="1" height="5.00" fill="#2962ff"/><rect x="465" y="135.00" width="3" height="4.00" fill="#2962ff"/><rect x="469" y="124.00" width="1" height="12.00" fill="#2962ff"/><rect x="468" y="124.00" width="3" height="12.00" fill="#2962ff"/><rect x="473" y="122.00" width="1" height="4.00" fill="#2962ff"/><rect x="472" y="122.00" width="3" height="2.00" fill="#2962ff"/><rect x="476" y="120.00" width="1" height="4.00" fill="#2962ff"/><rect x="475" y="120.00" width="3" height="3.00" fill="#2962ff"/><rect x="479" y="118.00" width="1" height="4.00" fill="#2962ff"/><rect x="478" y="119.00" width="3" height="2.00" fill="#2962ff"/><rect x="482" y="112.00" width="1" height="9.00" fill="#2962ff"/><rect x="481" y="114.00" width="3" height="5.00" fill="#2962ff"/><rect x="485" y="112.00" width="1" height="3.00" fill="#2962ff"/><rect x="484" y="112.00" width="3" height="2.00" fill="#2962ff"/><rect x="488" y="109.00" width="1" height="5.00" fill="#ef5350"/><rect x="487" y="112.00" width="3" height="1.00" fill="#ef5350"/><rect x="491" y="110.00" width="1" height="12.00" fill="#ef5350"/><rect x="490" y="113.00" width="3" height="2.00" fill="#ef5350"/><rect x="494" y="108.00" width="1" height="6.00" fill="#2962ff"/><rect x="493" y="110.00" width="3" height="4.00" fill="#2962ff"/><rect x="498" y="108.00" width="1" height="6.00" fill="#ef5350"/><rect x="497" y="110.00" width="3" height="2.00" fill="#ef5350"/><rect x="501" y="110.00" width="1" height="7.00" fill="#ef5350"/><rect x="500" y="111.00" width="3" height="5.00" fill="#ef5350"/><rect x="504" y="114.00" width="1" height="6.00" fill="#ef5350"/><rect x="503" y="114.00" width="3" height="4.00" fill="#ef5350"/><rect x="507" y="114.00" width="1" height="5.00" fill="#2962ff"/><rect x="506" y="117.00" width="3" height="1.00" fill="#2962ff"/><rect x="510" y="110.00" width="1" height="11.00" fill="#2962ff"/><rect x="509" y="110.00" width="3" height="9.00" fill="#2962ff"/><rect x="513" y="103.00" width="1" height="13.00" fill="#ef5350"/><rect x="512" y="110.00" width="3" height="1.00" fill="#ef5350"/><rect x="516" y="108.00" width="1" height="6.00" fill="#2962ff"/><rect x="515" y="110.00" width="3" height="1.00" fill="#2962ff"/><rect x="520" y="110.00" width="1" height="8.00" fill="#ef5350"/><rect x="519" y="110.00" width="3" height="6.00" fill="#ef5350"/><rect x="523" y="110.00" width="1" height="6.00" fill="#2962ff"/><rect x="522" y="110.00" width="3" height="6.00" fill="#2962ff"/><rect x="526" y="110.00" width="1" height="8.00" fill="#ef5350"/><rect x="525" y="111.00" width="3" height="7.00" fill="#ef5350"/><rect x="529" y="117.00" width="1" height="9.00" fill="#ef5350"/><rect x="528" y="118.00" width="3" height="6.00" fill="#ef5350"/><rect x="532" y="120.00" width="1" height="6.00" fill="#2962ff"/><rect x="531" y="121.00" width="3" height="3.00" fill="#2962ff"/><rect x="535" y="119.00" width="1" height="5.00" fill="#2962ff"/><rect x="534" y="120.00" width="3" height="2.00" fill="#2962ff"/><rect x="538" y="110.00" width="1" height="13.00" fill="#2962ff"/><rect x="537" y="112.00" width="3" height="10.00" fill="#2962ff"/><rect x="541" y="104.00" width="1" height="12.00" fill="#2962ff"/><rect x="540" y="107.00" width="3" height="8.00" fill="#2962ff"/><rect x="545" y="100.00" width="1" height="9.00" fill="#ef5350"/><rect x="544" y="106.00" width="3" height="1.00" fill="#ef5350"/><rect x="548" y="105.00" width="1" height="6.00" fill="#ef5350"/><rect x="547" y="107.00" width="3" height="4.00" fill="#ef5350"/><rect x="551" y="110.00" width="1" height="9.00" fill="#ef5350"/><rect x="550" y="110.00" width="3" height="9.00" fill="#ef5350"/><rect x="554" y="114.00" width="1" height="6.00" fill="#2962ff"/><rect x="553" y="117.00" width="3" height="1.00" fill="#2962ff"/><rect x="557" y="116.00" width="1" height="4.00" fill="#2962ff"/><rect x="556" y="116.00" width="3" height="2.00" fill="#2962ff"/><rect x="560" y="111.00" width="1" height="6.00" fill="#2962ff"/><rect x="559" y="114.00" width="3" height="2.00" fill="#2962ff"/><rect x="563" y="106.00" width="1" height="9.00" fill="#2962ff"/><rect x="562" y="108.00" width="3" height="7.00" fill="#2962ff"/><rect x="566" y="102.00" width="1" height="8.00" fill="#2962ff"/><rect x="565" y="102.00" width="3" height="8.00" fill="#2962ff"/><rect x="570" y="98.00" width="1" height="5.00" fill="#2962ff"/><rect x="569" y="99.00" width="3" height="4.00" fill="#2962ff"/><rect x="573" y="98.00" width="1" height="9.00" fill="#ef5350"/><rect x="572" y="99.00" width="3" height="6.00" fill="#ef5350"/><rect x="576" y="103.00" width="1" height="3.00" fill="#ef5350"/><rect x="575" y="104.00" width="3" height="1.00" fill="#ef5350"/><rect x="579" y="102.00" width="1" height="10.00" fill="#ef5350"/><rect x="578" y="103.00" width="3" height="8.00" fill="#ef5350"/><rect x="582" y="105.00" width="1" height="7.00" fill="#2962ff"/><rect x="581" y="107.00" width="3" height="4.00" fill="#2962ff"/><rect x="585" y="106.00" width="1" height="18.00" fill="#ef5350"/><rect x="584" y="107.00" width="3" height="17.00" fill="#ef5350"/><rect x="588" y="120.00" width="1" height="4.00" fill="#ef5350"/><rect x="587" y="122.00" width="3" height="2.00" fill="#ef5350"/><rect x="591" y="121.00" width="1" height="7.00" fill="#ef5350"/><rect x="590" y="123.00" width="3" height="3.00" fill="#ef5350"/><rect x="595" y="123.00" width="1" height="9.00" fill="#ef5350"/><rect x="594" y="125.00" width="3" height="5.00" fill="#ef5350"/><rect x="598" y="127.00" width="1" height="5.00" fill="#2962ff"/><rect x="597" y="129.00" width="3" height="1.00" fill="#2962ff"/><rect x="601" y="126.00" width="1" height="4.00" fill="#2962ff"/><rect x="600" y="126.00" width="3" height="2.00" fill="#2962ff"/><rect x="604" y="124.00" width="1" height="5.00" fill="#2962ff"/><rect x="603" y="124.00" width="3" height="3.00" fill="#2962ff"/><rect x="607" y="117.00" width="1" height="9.00" fill="#2962ff"/><rect x="606" y="119.00" width="3" height="7.00" fill="#2962ff"/><rect x="610" y="117.00" width="1" height="4.00" fill="#ef5350"/><rect x="609" y="119.00" width="3" height="2.00" fill="#ef5350"/><rect x="613" y="119.00" width="1" height="8.00" fill="#ef5350"/><rect x="612" y="121.00" width="3" height="6.00" fill="#ef5350"/><rect x="616" y="124.00" width="1" height="6.00" fill="#ef5350"/><rect x="615" y="125.00" width="3" height="5.00" fill="#ef5350"/><rect x="620" y="128.00" width="1" height="5.00" fill="#ef5350"/><rect x="619" y="128.00" width="3" height="4.00" fill="#ef5350"/><rect x="623" y="128.00" width="1" height="12.00" fill="#ef5350"/><rect x="622" y="130.00" width="3" height="7.00" fill="#ef5350"/><rect x="626" y="135.00" width="1" height="6.00" fill="#2962ff"/><rect x="625" y="135.00" width="3" height="1.00" fill="#2962ff"/><rect x="629" y="132.00" width="1" height="6.00" fill="#2962ff"/><rect x="628" y="132.00" width="3" height="4.00" fill="#2962ff"/><rect x="632" y="126.00" width="1" height="10.00" fill="#2962ff"/><rect x="631" y="129.00" width="3" height="5.00" fill="#2962ff"/><rect x="635" y="127.00" width="1" height="10.00" fill="#ef5350"/><rect x="634" y="129.00" width="3" height="6.00" fill="#ef5350"/><rect x="638" y="130.00" width="1" height="5.00" fill="#2962ff"/><rect x="637" y="131.00" width="3" height="4.00" fill="#2962ff"/><rect x="641" y="128.00" width="1" height="20.00" fill="#ef5350"/><rect x="640" y="130.00" width="3" height="18.00" fill="#ef5350"/><rect x="645" y="146.00" width="1" height="9.00" fill="#ef5350"/><rect x="644" y="147.00" width="3" height="7.00" fill="#ef5350"/><rect x="648" y="153.00" width="1" height="163.00" fill="#ef5350"/><rect x="647" y="154.00" width="3" height="54.00" fill="#ef5350"/><rect x="651" y="186.00" width="1" height="26.00" fill="#2962ff"/><rect x="650" y="193.00" width="3" height="16.00" fill="#2962ff"/><rect x="654" y="188.00" width="1" height="7.00" fill="#2962ff"/><rect x="653" y="190.00" width="3" height="3.00" fill="#2962ff"/><rect x="657" y="175.00" width="1" height="15.00" fill="#2962ff"/><rect x="656" y="185.00" width="3" height="5.00" fill="#2962ff"/><rect x="660" y="183.00" width="1" height="5.00" fill="#ef5350"/><rect x="659" y="185.00" width="3" height="3.00" fill="#ef5350"/><rect x="663" y="185.00" width="1" height="17.00" fill="#ef5350"/><rect x="662" y="187.00" width="3" height="13.00" fill="#ef5350"/><rect x="666" y="198.00" width="1" height="14.00" fill="#2962ff"/><rect x="665" y="200.00" width="3" height="1.00" fill="#2962ff"/><rect x="670" y="198.00" width="1" height="4.00" fill="#2962ff"/><rect x="669" y="198.00" width="3" height="2.00" fill="#2962ff"/><rect x="673" y="197.00" width="1" height="4.00" fill="#2962ff"/><rect x="672" y="198.00" width="3" height="2.00" fill="#2962ff"/><rect x="676" y="196.00" width="1" height="4.00" fill="#ef5350"/><rect x="675" y="198.00" width="3" height="1.00" fill="#ef5350"/><rect x="679" y="178.00" width="1" height="23.00" fill="#2962ff"/><rect x="678" y="180.00" width="3" height="19.00" fill="#2962ff"/><rect x="682" y="172.00" width="1" height="11.00" fill="#2962ff"/><rect x="681" y="173.00" width="3" height="8.00" fill="#2962ff"/><rect x="685" y="171.00" width="1" height="7.00" fill="#ef5350"/><rect x="684" y="173.00" width="3" height="5.00" fill="#ef5350"/><rect x="688" y="174.00" width="1" height="4.00" fill="#ef5350"/><rect x="687" y="176.00" width="3" height="2.00" fill="#ef5350"/><rect x="691" y="170.00" width="1" height="8.00" fill="#2962ff"/><rect x="690" y="171.00" width="3" height="7.00" fill="#2962ff"/><rect x="695" y="170.00" width="1" height="5.00" fill="#ef5350"/><rect x="694" y="171.00" width="3" height="4.00" fill="#ef5350"/><rect x="698" y="164.00" width="1" height="12.00" fill="#2962ff"/><rect x="697" y="165.00" width="3" height="10.00" fill="#2962ff"/><rect x="701" y="158.00" width="1" height="8.00" fill="#2962ff"/><rect x="700" y="159.00" width="3" height="7.00" fill="#2962ff"/><rect x="704" y="155.00" width="1" height="7.00" fill="#ef5350"/><rect x="703" y="158.00" width="3" height="4.00" fill="#ef5350"/><rect x="707" y="160.00" width="1" height="9.00" fill="#ef5350"/><rect x="706" y="161.00" width="3" height="8.00" fill="#ef5350"/><rect x="710" y="169.00" width="1" height="19.00" fill="#ef5350"/><rect x="709" y="169.00" width="3" height="17.00" fill="#ef5350"/><rect x="713" y="180.00" width="1" height="11.00" fill="#2962ff"/><rect x="712" y="181.00" width="3" height="5.00" fill="#2962ff"/><rect x="717" y="176.00" width="1" height="12.00" fill="#2962ff"/><rect x="716" y="176.00" width="3" height="9.00" fill="#2962ff"/><rect x="720" y="174.00" width="1" height="7.00" fill="#ef5350"/><rect x="719" y="176.00" width="3" height="2.00" fill="#ef5350"/><rect x="723" y="173.00" width="1" height="5.00" fill="#2962ff"/><rect x="722" y="174.00" width="3" height="4.00" fill="#2962ff"/><rect x="726" y="173.00" width="1" height="5.00" fill="#ef5350"/><rect x="725" y="174.00" width="3" height="4.00" fill="#ef5350"/><rect x="729" y="173.00" width="1" height="5.00" fill="#2962ff"/><rect x="728" y="174.00" width="3" height="4.00" fill="#2962ff"/><rect x="732" y="172.00" width="1" height="7.00" fill="#ef5350"/><rect x="731" y="174.00" width="3" height="5.00" fill="#ef5350"/><rect x="735" y="178.00" width="1" height="10.00" fill="#ef5350"/><rect x="734" y="179.00" width="3" height="7.00" fill="#ef5350"/><rect x="738" y="184.00" width="1" height="6.00" fill="#ef5350"/><rect x="737" y="184.00" width="3" height="4.00" fill="#ef5350"/><rect x="742" y="186.00" width="1" height="2.00" fill="#ef5350"/><rect x="741" y="186.00" width="3" height="2.00" fill="#ef5350"/><rect x="745" y="184.00" width="1" height="6.00" fill="#2962ff"/><rect x="744" y="187.00" width="3" height="1.00" fill="#2962ff"/><rect x="748" y="184.00" width="1" height="4.00" fill="#ef5350"/><rect x="747" y="186.00" width="3" height="1.00" fill="#ef5350"/><rect x="751" y="183.00" width="1" height="5.00" fill="#2962ff"/><rect x="750" y="184.00" width="3" height="3.00" fill="#2962ff"/><rect x="754" y="184.00" width="1" height="14.00" fill="#ef5350"/><rect x="753" y="184.00" width="3" height="13.00" fill="#ef5350"/><rect x="757" y="195.00" width="1" height="5.00" fill="#ef5350"/><rect x="756" y="196.00" width="3" height="4.00" fill="#ef5350"/><rect x="760" y="196.00" width="1" height="4.00" fill="#2962ff"/><rect x="759" y="198.00" width="3" height="2.00" fill="#2962ff"/><rect x="763" y="195.00" width="1" height="5.00" fill="#2962ff"/><rect x="762" y="195.00" width="3" height="5.00" fill="#2962ff"/><rect x="767" y="193.00" width="1" height="27.00" fill="#ef5350"/><rect x="766" y="195.00" width="3" height="24.00" fill="#ef5350"/><rect x="770" y="206.00" width="1" height="15.00" fill="#2962ff"/><rect x="769" y="208.00" width="3" height="11.00" fill="#2962ff"/><rect x="773" y="206.00" width="1" height="4.00" fill="#2962ff"/><rect x="772" y="206.00" width="3" height="3.00" fill="#2962ff"/><rect x="776" y="205.00" width="1" height="6.00" fill="#ef5350"/><rect x="775" y="206.00" width="3" height="3.00" fill="#ef5350"/><rect x="779" y="203.00" width="1" height="7.00" fill="#2962ff"/><rect x="778" y="205.00" width="3" height="4.00" fill="#2962ff"/><rect x="782" y="200.00" width="1" height="7.00" fill="#2962ff"/><rect x="781" y="202.00" width="3" height="5.00" fill="#2962ff"/><rect x="785" y="202.00" width="1" height="2.00" fill="#2962ff"/><rect x="784" y="202.00" width="3" height="1.00" fill="#2962ff"/><rect x="788" y="202.00" width="1" height="1.00" fill="#2962ff"/><rect x="787" y="202.00" width="3" height="1.00" fill="#2962ff"/><rect x="792" y="201.00" width="1" height="5.00" fill="#ef5350"/><rect x="791" y="202.00" width="3" height="3.00" fill="#ef5350"/><rect x="795" y="202.00" width="1" height="3.00" fill="#2962ff"/><rect x="794" y="202.00" width="3" height="3.00" fill="#2962ff"/><rect x="798" y="200.00" width="1" height="2.00" fill="#2962ff"/><rect x="797" y="201.00" width="3" height="1.00" fill="#2962ff"/><rect x="801" y="199.00" width="1" height="5.00" fill="#2962ff"/><rect x="800" y="201.00" width="3" height="1.00" fill="#2962ff"/><rect x="804" y="200.00" width="1" height="5.00" fill="#ef5350"/><rect x="803" y="201.00" width="3" height="3.00" fill="#ef5350"/><rect x="807" y="195.00" width="1" height="11.00" fill="#2962ff"/><rect x="806" y="197.00" width="3" height="7.00" fill="#2962ff"/><rect x="810" y="192.00" width="1" height="7.00" fill="#2962ff"/><rect x="809" y="195.00" width="3" height="3.00" fill="#2962ff"/><rect x="813" y="192.00" width="1" height="5.00" fill="#2962ff"/><rect x="812" y="195.00" width="3" height="1.00" fill="#2962ff"/><rect x="817" y="194.00" width="1" height="3.00" fill="#ef5350"/><rect x="816" y="195.00" width="3" height="2.00" fill="#ef5350"/><rect x="820" y="190.00" width="1" height="11.00" fill="#2962ff"/><rect x="819" y="191.00" width="3" height="6.00" fill="#2962ff"/><rect x="823" y="188.00" width="1" height="5.00" fill="#2962ff"/><rect x="822" y="191.00" width="3" height="1.00" fill="#2962ff"/><rect x="826" y="188.00" width="1" height="4.00" fill="#2962ff"/><rect x="825" y="190.00" width="3" height="2.00" fill="#2962ff"/><rect x="829" y="190.00" width="1" height="2.00" fill="#ef5350"/><rect x="828" y="191.00" width="3" height="1.00" fill="#ef5350"/>
<!-- trendline -->
<line x1="134.9" y1="36.9" x2="1041.5" y2="163.9" stroke="#131313" stroke-width="1.4"/>
<!-- stochastic -->
<polyline points="2.0,373.0 5.5,378.5 9.0,385.0 12.5,378.5 21.1,357.5 27.4,356.3 32.1,356.0 35.2,352.5 40.7,352.5 47.0,359.9 49.8,367.7 53.2,366.1 57.9,370.0 60.3,377.9 64.0,386.0 70.0,400.0 80.0,405.0 95.0,400.0 104.9,377.9 109.6,355.2 116.6,369.3 119.0,369.3 125.3,352.5 131.5,352.8 136.2,362.2 140.1,377.9 150.0,400.0 165.0,407.0 174.3,407.6 181.3,405.7 186.0,403.2 189.1,402.1 197.0,385.4 200.1,386.0 204.8,387.6 209.5,388.0 218.9,352.8 225.2,366.9 229.1,369.3 234.5,366.9 243.9,392.0 250.2,407.3 256.5,407.6 265.9,392.0 269.0,392.0 275.3,387.0 282.3,372.1 285.4,374.0 297.2,408.4 305.7,405.3 315.0,385.0 322.1,374.7 332.3,374.0 340.9,352.5 344.8,352.8 351.1,368.5 357.3,399.0 365.2,400.1 371.4,393.5 379.2,387.3 387.9,354.4 393.3,360.7 401.2,365.4 404.3,363.0 410.6,369.3 413.7,377.9 421.5,354.4 424.6,354.7 431.7,369.3 435.6,371.9 441.0,363.5 445.7,370.0 453.5,391.2 458.2,388.8 467.6,368.5 471.5,356.0 476.2,352.5 486.4,352.8 491.8,356.3 497.3,358.3 502.0,363.8 507.5,383.4 510.6,385.4 515.3,381.8 518.5,390.4 525.5,402.9 531.8,406.1 538.0,395.1 543.5,370.0 546.6,366.6 555.3,392.0 556.8,395.1 568.6,359.1 571.7,357.5 578.6,376.3 582.5,382.6 585.7,395.1 591.1,408.4 595.0,408.4 603.7,404.5 609.9,392.0 613.1,390.4 620.1,403.7 625.6,406.1 631.8,386.5 638.1,377.9 646.7,408.4 651.4,402.1 659.2,379.4 660.8,379.4 668.6,384.9 676.5,381.8 685.1,354.4 692.1,355.2 703.1,354.1 706.2,356.7 713.3,377.1 718.6,380.7 722.5,380.2 725.7,384.9 728.8,381.8 733.5,386.5 741.3,406.8 747.6,406.8 750.7,397.9 756.2,399.0 760.1,406.8 763.2,402.6 766.4,402.9 772.6,392.0 775.8,381.0 786.7,362.2 788.3,360.7 791.4,361.9 797.7,356.7 800.8,352.5 803.9,355.2 810.2,355.2 813.3,352.5 816.5,355.2 822.7,355.2 826.6,352.5 829.0,354.1" fill="none" stroke="#2962ff" stroke-width="1.25" stroke-linejoin="round"/>
<path d="M2.0,368.0 C2.8,369.8 5.7,375.5 7.0,378.5 C8.3,381.5 8.8,386.0 10.0,386.0 C11.2,386.0 12.2,383.0 14.5,378.5 C16.8,374.0 21.1,362.7 23.5,359.1 C25.9,355.5 27.6,357.2 29.0,356.7 C30.4,356.2 30.2,356.9 32.1,356.3 C34.1,355.7 38.4,352.7 40.7,352.8 C43.1,352.9 44.4,355.0 46.2,356.7 C48.0,358.4 49.4,360.8 51.7,363.0 C54.1,365.2 58.5,367.5 60.3,370.0 C62.1,372.5 61.0,373.7 62.6,377.9 C64.2,382.1 66.3,390.5 70.0,395.0 C73.7,399.5 80.0,405.0 85.0,405.0 C90.0,405.0 96.2,399.5 100.0,395.0 C103.8,390.5 105.8,383.5 108.0,377.9 C110.2,372.3 112.2,364.1 113.5,361.4 C114.8,358.6 114.8,360.5 115.9,361.4 C117.0,362.3 118.6,367.0 120.2,366.9 C121.8,366.8 123.3,363.0 125.3,360.7 C127.3,358.4 130.2,353.1 132.3,352.8 C134.4,352.5 136.1,354.9 137.8,359.1 C139.5,363.3 140.1,371.4 142.5,377.9 C144.9,384.4 148.2,393.0 152.0,398.0 C155.8,403.0 161.3,406.3 165.0,408.0 C168.7,409.7 171.6,408.6 174.3,408.4 C177.0,408.2 178.6,407.9 181.3,406.8 C184.0,405.7 187.6,404.9 190.7,401.7 C193.8,398.4 197.9,389.8 200.1,387.3 C202.3,384.8 202.4,386.4 204.0,386.5 C205.6,386.6 207.5,389.3 209.5,387.6 C211.5,385.9 213.6,381.0 215.8,376.3 C218.0,371.6 221.2,362.1 222.8,359.4 C224.4,356.7 223.8,358.5 225.2,359.9 C226.6,361.3 229.6,366.3 231.4,367.7 C233.2,369.1 234.0,365.8 236.1,368.5 C238.2,371.2 241.6,378.8 243.9,384.1 C246.2,389.5 248.1,396.7 250.2,400.6 C252.3,404.5 253.9,408.0 256.5,407.3 C259.1,406.6 262.8,399.7 265.9,396.7 C269.0,393.7 272.2,393.0 275.3,389.2 C278.4,385.4 282.5,376.3 284.6,374.0 C286.7,371.7 285.5,370.4 287.8,375.5 C290.1,380.6 296.0,399.2 298.7,404.5 C301.4,409.8 301.6,408.4 304.1,407.3 C306.6,406.2 310.4,403.1 313.5,398.2 C316.6,393.3 319.8,381.9 322.9,377.9 C326.0,373.9 329.9,375.8 332.3,374.0 C334.7,372.2 334.9,370.1 337.0,366.9 C339.1,363.7 343.1,356.7 344.8,354.7 C346.5,352.7 345.9,353.7 347.1,354.7 C348.3,355.7 349.6,354.2 351.8,360.7 C354.0,367.2 358.0,386.9 360.5,393.5 C363.0,400.1 364.1,400.1 366.7,400.1 C369.3,400.1 373.8,395.8 376.1,393.5 C378.5,391.2 378.3,392.6 380.8,386.5 C383.3,380.4 388.9,362.1 391.0,357.2 C393.1,352.3 391.4,356.1 393.3,357.2 C395.2,358.3 399.8,362.2 402.7,363.8 C405.6,365.4 408.5,365.3 410.6,366.9 C412.7,368.5 413.7,372.4 415.3,373.2 C416.9,374.0 417.8,374.4 420.0,371.6 C422.2,368.8 426.4,357.9 428.6,356.3 C430.8,354.7 431.7,359.9 433.3,362.2 C434.9,364.5 436.1,369.2 438.0,370.0 C439.9,370.8 443.1,366.4 444.9,366.9 C446.7,367.4 446.4,369.5 448.8,373.2 C451.2,376.9 455.6,389.6 459.0,388.8 C462.4,388.0 465.9,374.4 469.1,368.5 C472.4,362.6 475.9,356.3 478.5,353.6 C481.1,350.9 482.4,352.2 484.8,352.5 C487.2,352.8 489.9,354.1 492.6,355.2 C495.3,356.3 498.3,354.8 501.2,359.1 C504.1,363.4 507.7,376.8 509.9,381.0 C512.1,385.2 512.8,383.1 514.5,384.1 C516.2,385.2 516.9,383.9 520.0,387.3 C523.1,390.7 530.3,402.1 533.3,404.5 C536.3,406.9 535.4,406.8 538.0,401.4 C540.6,396.0 546.9,377.2 549.0,372.4 C551.1,367.6 548.8,369.3 550.6,372.4 C552.4,375.5 557.9,388.5 560.0,391.2 C562.1,393.9 561.0,393.8 563.1,388.8 C565.2,383.8 570.4,366.1 572.5,361.4 C574.6,356.6 574.7,359.9 575.6,360.3 C576.5,360.7 576.4,359.8 577.8,363.8 C579.2,367.8 581.6,377.1 584.1,384.1 C586.6,391.2 590.6,402.1 592.7,406.1 C594.8,410.1 594.7,408.1 596.6,408.0 C598.5,407.9 601.5,407.8 604.4,405.3 C607.3,402.8 611.7,394.5 613.8,392.8 C615.9,391.1 614.9,393.1 617.0,395.1 C619.1,397.1 623.9,404.5 626.4,404.8 C628.9,405.1 629.7,400.4 631.8,396.7 C633.9,393.0 637.2,384.7 638.9,382.6 C640.6,380.5 640.6,381.4 642.0,384.1 C643.4,386.8 645.4,396.4 647.5,399.0 C649.6,401.6 651.9,402.8 654.5,399.8 C657.1,396.8 660.3,383.7 663.2,381.0 C666.1,378.3 669.6,383.1 671.8,383.4 C674.0,383.7 673.6,387.2 676.5,382.6 C679.4,378.0 684.4,360.7 689.0,356.0 C693.6,351.3 700.6,353.9 703.9,354.4 C707.2,354.9 706.6,355.7 708.6,359.1 C710.6,362.5 713.8,371.4 715.6,374.7 C717.4,378.0 718.0,378.1 719.4,379.1 C720.8,380.2 722.5,380.5 724.1,381.0 C725.7,381.5 727.0,381.5 728.8,382.3 C730.6,383.1 732.5,382.3 735.0,386.0 C737.5,389.7 741.6,401.1 743.7,404.5 C745.8,407.9 745.4,407.3 747.6,406.4 C749.8,405.5 754.0,399.4 757.0,399.0 C760.0,398.6 763.0,404.1 765.6,403.7 C768.2,403.3 770.1,401.0 772.6,396.7 C775.1,392.4 777.6,383.5 780.5,377.9 C783.4,372.3 786.9,366.1 789.8,363.0 C792.7,359.9 795.5,360.5 797.7,359.1 C799.9,357.7 801.1,355.4 803.2,354.7 C805.3,354.0 808.5,355.3 810.2,355.2 C811.9,355.1 811.2,354.2 813.3,354.1 C815.4,354.0 820.1,354.8 822.7,354.7 C825.3,354.6 828.0,353.8 829.0,353.6" fill="none" stroke="#ff6d00" stroke-width="1.25"/>
<!-- watermark -->
<g id="wm">
<defs><filter id="bl" x="-5%" y="-5%" width="110%" height="110%"><feGaussianBlur stdDeviation="0.45"/></filter></defs>
<g fill="none" stroke="#ffd8c0" stroke-width="5.6" filter="url(#bl)">
<path d="M52.2,225.6 H72.3 A10.05,10.8 0 1 0 69.6,235.2"/>
<path d="M98.3,219.8 A10.75,10.8 0 1 0 98.3,235.1"/>
<ellipse cx="118.15" cy="227.45" rx="11.05" ry="10.8"/>
<path d="M137.6,214.2 V240.7 M137.6,226 A9.35,9.35 0 0 1 156.3,226 V240.7"/>
<ellipse cx="175.4" cy="227.45" rx="10.7" ry="10.8"/>
<path d="M195.1,214.2 V240.7 M195.1,224.7 A8.0,8.0 0 0 1 211.15,224.7 V240.7 M211.15,224.7 A8.0,8.0 0 0 1 227.2,224.7 V240.7"/>
<path d="M235.6,215.2 V240.7"/>
<path d="M244.6,225.6 H264.6 A10.0,10.8 0 1 0 262,235.2"/>
<path d="M290.8,221.5 C289,218 285.5,216.7 281.5,216.7 C275.5,216.7 271.6,218.8 271.6,222.3 C271.6,226.2 276.5,227.1 281.5,227.6 C286.5,228.1 291.6,229.4 291.6,233.2 C291.6,236.6 287.5,238.3 281.5,238.3 C276.5,238.3 272.6,236.8 270.8,233.5"/>
</g>
<rect x="232.9" y="207.3" width="5.4" height="5.2" fill="#ffd8c0" filter="url(#bl)"/>
<g fill="none" stroke="#dadada" stroke-width="2.7" filter="url(#bl)">
<path d="M323,221 A10.6,11.2 0 1 0 323,234"/>
<ellipse cx="339.9" cy="227.4" rx="11.6" ry="11.2"/>
<path d="M357.2,215.2 V239.6 M357.2,223.5 A8,8 0 0 1 373.2,223.5 V239.6 M373.2,223.5 A8,8 0 0 1 389.2,223.5 V239.6"/>
</g>
<circle cx="299.5" cy="236.6" r="1.8" fill="#d6d6d6"/>
<g fill="#dcdcdc" filter="url(#bl)">
<text x="89.7" y="280.3" font-size="42" font-weight="bold" textLength="20.2" lengthAdjust="spacingAndGlyphs">F</text>
<path d="M138.6,250 H141.8 V280 H138.6 Z M138,250 H146 L166.3,280 H158.3 Z M162.9,250 H166.3 V280 H162.9 Z"/>
<text x="171.5" y="278.6" font-size="42" textLength="174.5" lengthAdjust="spacingAndGlyphs" stroke="#dcdcdc" stroke-width="1.1">ewsToday</text>
</g>
<path d="M111.7,257.8 Q117,267.5 119.6,266.7 Q124,262 132.4,257.2" fill="none" stroke="#f0d4d4" stroke-width="2.6" filter="url(#bl)"/>
<path d="M113.4,277.4 Q121,270 126.5,266.7 Q130,270 134.2,277.4" fill="none" stroke="#d9edd9" stroke-width="2.6" filter="url(#bl)"/>
</g>
<!-- price labels -->
<text x="1094" y="70.4" font-size="12.7" fill="#131722" font-weight="normal" text-anchor="start" textLength="67" lengthAdjust="spacingAndGlyphs" >0.000014000</text><text x="1094" y="103.6" font-size="12.7" fill="#131722" font-weight="normal" text-anchor="start" textLength="67" lengthAdjust="spacingAndGlyphs" >0.000013000</text><text x="1094" y="136.9" font-size="12.7" fill="#131722" font-weight="normal" text-anchor="start" textLength="67" lengthAdjust="spacingAndGlyphs" >0.000012000</text><text x="1094" y="170.2" font-size="12.7" fill="#131722" font-weight="normal" text-anchor="start" textLength="67" lengthAdjust="spacingAndGlyphs" >0.000011000</text><text x="1094" y="203.4" font-size="12.7" fill="#131722" font-weight="normal" text-anchor="start" textLength="67" lengthAdjust="spacingAndGlyphs" >0.000010000</text><text x="1094" y="236.7" font-size="12.7" fill="#131722" font-weight="normal" text-anchor="start" textLength="67" lengthAdjust="spacingAndGlyphs" >0.000009000</text><text x="1094" y="269.9" font-size="12.7" fill="#131722" font-weight="normal" text-anchor="start" textLength="67" lengthAdjust="spacingAndGlyphs" >0.000008000</text><text x="1094" y="303.2" font-size="12.7" fill="#131722" font-weight="normal" text-anchor="start" textLength="67" lengthAdjust="spacingAndGlyphs" >0.000007000</text><text x="1094" y="336.4" font-size="12.7" fill="#131722" font-weight="normal" text-anchor="start" textLength="67" lengthAdjust="spacingAndGlyphs" >0.000006000</text>
<rect x="1086" y="148" width="81" height="16.5" rx="1.5" fill="#f23645"/>
<text x="1094" y="161.0" font-size="12.5" fill="#ffffff" font-weight="bold" text-anchor="start" textLength="67" lengthAdjust="spacingAndGlyphs" >0.000011282</text>
<rect x="1086" y="183.3" width="81" height="16.2" rx="1.5" fill="#ef5350"/>
<text x="1094" y="196.0" font-size="12.5" fill="#ffffff" font-weight="bold" text-anchor="start" textLength="67" lengthAdjust="spacingAndGlyphs" >0.000010221</text>
<rect x="1086" y="216" width="81" height="16" rx="1.5" fill="#089981"/>
<text x="1094" y="228.8" font-size="12.5" fill="#ffffff" font-weight="bold" text-anchor="start" textLength="67" lengthAdjust="spacingAndGlyphs" >0.000009234</text>
<text x="1094" y="357.4" font-size="12.5" fill="#131722" font-weight="normal" text-anchor="start" textLength="35.8" lengthAdjust="spacingAndGlyphs" >100.00</text>
<text x="1094" y="413.4" font-size="12.5" fill="#131722" font-weight="normal" text-anchor="start" textLength="23" lengthAdjust="spacingAndGlyphs" >0.00</text>
<!-- x axis -->
<text x="12.9" y="433.3" font-size="13.1" fill="#131722" font-weight="normal" text-anchor="middle" textLength="5.5" lengthAdjust="spacingAndGlyphs" >7</text><text x="69.3" y="433.3" font-size="13.1" fill="#131722" font-weight="normal" text-anchor="middle" textLength="11.9" lengthAdjust="spacingAndGlyphs" >10</text><text x="125.6" y="433.3" font-size="13.1" fill="#131722" font-weight="normal" text-anchor="middle" textLength="11.9" lengthAdjust="spacingAndGlyphs" >13</text><text x="181.9" y="433.3" font-size="13.1" fill="#131722" font-weight="normal" text-anchor="middle" textLength="11.9" lengthAdjust="spacingAndGlyphs" >16</text><text x="238.2" y="433.3" font-size="13.1" fill="#131722" font-weight="normal" text-anchor="middle" textLength="11.9" lengthAdjust="spacingAndGlyphs" >19</text><text x="294.5" y="433.3" font-size="13.1" fill="#131722" font-weight="normal" text-anchor="middle" textLength="11.9" lengthAdjust="spacingAndGlyphs" >22</text><text x="350.8" y="433.3" font-size="13.1" fill="#131722" font-weight="normal" text-anchor="middle" textLength="11.9" lengthAdjust="spacingAndGlyphs" >25</text><text x="407.1" y="433.3" font-size="13.1" fill="#131722" font-weight="normal" text-anchor="middle" textLength="11.9" lengthAdjust="spacingAndGlyphs" >28</text><text x="463.4" y="433.3" font-size="13.1" fill="#131722" font-weight="normal" text-anchor="middle" textLength="19.2" lengthAdjust="spacingAndGlyphs" stroke="#131722" stroke-width="0.5">Oct</text><text x="519.7" y="433.3" font-size="13.1" fill="#131722" font-weight="normal" text-anchor="middle" textLength="5.5" lengthAdjust="spacingAndGlyphs" >4</text><text x="576.0" y="433.3" font-size="13.1" fill="#131722" font-weight="normal" text-anchor="middle" textLength="5.5" lengthAdjust="spacingAndGlyphs" >7</text><text x="632.3" y="433.3" font-size="13.1" fill="#131722" font-weight="normal" text-anchor="middle" textLength="11.9" lengthAdjust="spacingAndGlyphs" >10</text><text x="688.6" y="433.3" font-size="13.1" fill="#131722" font-weight="normal" text-anchor="middle" textLength="11.9" lengthAdjust="spacingAndGlyphs" >13</text><text x="744.9" y="433.3" font-size="13.1" fill="#131722" font-weight="normal" text-anchor="middle" textLength="11.9" lengthAdjust="spacingAndGlyphs" >16</text><text x="801.2" y="433.3" font-size="13.1" fill="#131722" font-weight="normal" text-anchor="middle" textLength="11.9" lengthAdjust="spacingAndGlyphs" >19</text><text x="857.2" y="433.3" font-size="13.1" fill="#131722" font-weight="normal" text-anchor="middle" textLength="11.9" lengthAdjust="spacingAndGlyphs" >22</text><text x="913.5" y="433.3" font-size="13.1" fill="#131722" font-weight="normal" text-anchor="middle" textLength="11.9" lengthAdjust="spacingAndGlyphs" >25</text><text x="969.5" y="433.3" font-size="13.1" fill="#131722" font-weight="normal" text-anchor="middle" textLength="11.9" lengthAdjust="spacingAndGlyphs" >28</text><text x="1044.5" y="433.3" font-size="13.1" fill="#131722" font-weight="normal" text-anchor="middle" textLength="20.6" lengthAdjust="spacingAndGlyphs" stroke="#131722" stroke-width="0.5">Nov</text>
<rect x="0" y="28" width="2" height="419" fill="#e6e6e6"/>
<rect x="0" y="378" width="174" height="42" fill="#ffffff"/>
<!-- settings icon -->
<path d="M1124.6,429.4 L1127.6,423.6 L1135.4,423.6 L1138.4,429.4 L1135.4,435.2 L1127.6,435.2 Z" fill="none" stroke="#131722" stroke-width="1.1"/>
<circle cx="1131.5" cy="429.4" r="2" fill="none" stroke="#131722" stroke-width="1.3"/>
</svg>
</body></html>
